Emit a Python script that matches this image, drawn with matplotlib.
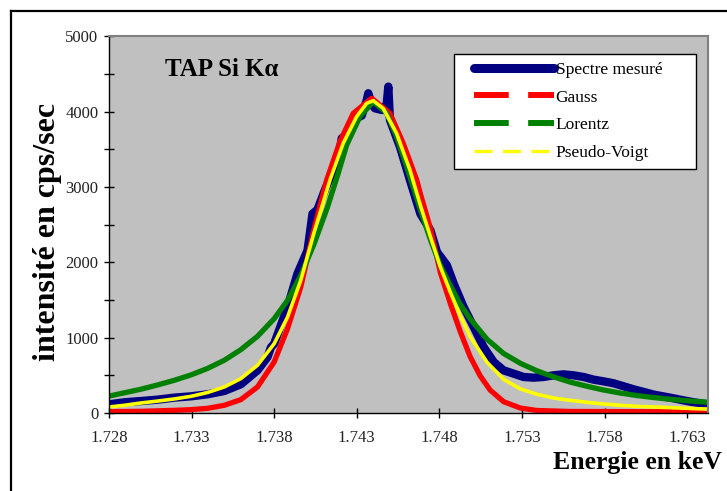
import matplotlib.pyplot as plt
from matplotlib.lines import Line2D
from matplotlib.legend_handler import HandlerLine2D

plt.rcParams['font.family'] = ['Liberation Serif', 'DejaVu Serif']
plt.rcParams['lines.scale_dashes'] = False

# energy (keV) / intensity (cps/sec)
e_mes = [1.72802, 1.72893, 1.72994, 1.73094, 1.73195, 1.73296, 1.73397, 1.73498,
         1.73598, 1.73699, 1.73760, 1.73780, 1.73800, 1.73881, 1.73941, 1.74002,
         1.74032, 1.74062, 1.74107, 1.74158, 1.74198, 1.74209, 1.74239, 1.74279,
         1.74330, 1.74360, 1.74370, 1.74390, 1.74410, 1.74451, 1.74481, 1.74491,
         1.74501, 1.74561, 1.74622, 1.74685, 1.74746, 1.74786, 1.74846, 1.74887,
         1.74947, 1.75008, 1.75068, 1.75129, 1.75189, 1.75250, 1.75310, 1.75371,
         1.75431, 1.75491, 1.75552, 1.75612, 1.75673, 1.75733, 1.75794, 1.75854,
         1.75915, 1.75975, 1.76036, 1.76096, 1.76157, 1.76217, 1.76278, 1.76338,
         1.76409]
i_mes = [115, 142, 159, 177, 204, 221, 248, 292,
         381, 566, 743, 870, 920, 1407, 1850, 2159,
         2646, 2700, 2961, 3227, 3500, 3648, 3700, 3891,
         3950, 4150, 4246, 4100, 4046, 4024, 4100, 4334,
         3891, 3537, 3094, 2646, 2425, 2137, 1960, 1717,
         1407, 1142, 876, 677, 566, 522, 478, 469,
         478, 500, 513, 500, 478, 443, 420, 395,
         355, 315, 280, 245, 220, 195, 168, 143,
         120]

e_gauss = [1.72802, 1.72994, 1.73195, 1.73296, 1.73397, 1.73498, 1.73598, 1.73699,
           1.73800, 1.73881, 1.73961, 1.74042, 1.74118, 1.74198, 1.74279, 1.74390,
           1.74501, 1.74581, 1.74663, 1.74685, 1.74746, 1.74806, 1.74867, 1.74927,
           1.74987, 1.75048, 1.75108, 1.75189, 1.75290, 1.75391, 1.75592, 1.76409]
i_gauss = [18, 22, 35, 44, 62, 102, 177, 345,
           677, 1120, 1673, 2450, 3094, 3604, 3980, 4180,
           3980, 3582, 3094, 2912, 2450, 1865, 1450, 1078,
           745, 490, 303, 150, 66, 33, 20, 15]

e_lor = [1.72802, 1.72893, 1.72994, 1.73094, 1.73195, 1.73296, 1.73397, 1.73498,
         1.73598, 1.73699, 1.73800, 1.73881, 1.73961, 1.74042, 1.74123, 1.74183,
         1.74239, 1.74319, 1.74400, 1.74481, 1.74541, 1.74602, 1.74685, 1.74746,
         1.74806, 1.74867, 1.74927, 1.74987, 1.75088, 1.75189, 1.75290, 1.75391,
         1.75491, 1.75592, 1.75693, 1.75794, 1.75895, 1.75995, 1.76096, 1.76197,
         1.76298, 1.76409]
i_lor = [225, 268, 316, 372, 434, 505, 592, 700,
         841, 1018, 1252, 1496, 1827, 2248, 2735, 3150,
         3559, 3935, 4134, 3980, 3670, 3271, 2700, 2300,
         1960, 1690, 1440, 1250, 980, 790, 660, 560,
         480, 410, 355, 305, 265, 232, 205, 182,
         163, 145]

e_pv = [1.72802, 1.72893, 1.72994, 1.73094, 1.73195, 1.73296, 1.73397, 1.73498,
        1.73598, 1.73699, 1.73800, 1.73881, 1.73961, 1.74042, 1.74138, 1.74218,
        1.74299, 1.74360, 1.74400, 1.74460, 1.74541, 1.74622, 1.74685, 1.74746,
        1.74806, 1.74867, 1.74927, 1.74987, 1.75088, 1.75189, 1.75290, 1.75391,
        1.75491, 1.75592, 1.75693, 1.75794, 1.75895, 1.75995, 1.76096, 1.76197,
        1.76298, 1.76409]
i_pv = [80, 102, 133, 158, 186, 221, 272, 345,
        456, 633, 920, 1274, 1761, 2400, 3094, 3582,
        3935, 4113, 4147, 4046, 3714, 3227, 2760, 2340,
        1940, 1600, 1290, 1010, 675, 447, 320, 248,
        199, 168, 142, 119, 102, 88, 80, 71,
        62, 53]

xticks = [1.728, 1.733, 1.738, 1.743, 1.748, 1.753, 1.758, 1.763]
xlabels = ['1.728', '1.733', '1.738', '1.743', '1.748', '1.753', '1.758', '1.763']
yticks = [0, 1000, 2000, 3000, 4000, 5000]
legends = ['Spectre mesuré', 'Gauss', 'Lorentz', 'Pseudo-Voigt']

fig = plt.figure(figsize=(7.27, 4.91), dpi=100)
ax = fig.add_axes([0.1499, 0.1589, 0.8239, 0.7668])
ax.set_facecolor('#c0c0c0')

ax.plot(e_mes, i_mes, color='#000080', lw=6, solid_joinstyle='round', solid_capstyle='round')
ax.plot(e_gauss, i_gauss, color='#ff0000', lw=3.8, solid_joinstyle='round')
ax.plot(e_lor, i_lor, color='#008000', lw=3.8, solid_joinstyle='round')
ax.plot(e_pv, i_pv, color='#ffff00', lw=2.6, solid_joinstyle='round')

ax.set_xlim(1.728, 1.76426)
ax.set_ylim(0, 5000)
ax.set_xticks(xticks)
ax.set_xticklabels(xlabels)
ax.set_yticks(yticks)
ax.set_yticks([500, 1500, 2500, 3500, 4500], minor=True)
ax.tick_params(axis='both', which='both', direction='inout', length=7, width=1,
               color='black', labelsize=12, labelcolor='#222222')
ax.tick_params(axis='x', pad=9)
ax.tick_params(axis='y', pad=4)

for s in ['left', 'bottom']:
    ax.spines[s].set_color('black')
    ax.spines[s].set_linewidth(1)
for s in ['top', 'right']:
    ax.spines[s].set_color('#808080')
    ax.spines[s].set_linewidth(1.5)

ax.text(0.0935, 0.911, 'TAP Si K\u03b1', transform=ax.transAxes, fontsize=18,
        fontweight='bold', va='center', ha='left')
fig.text(0.993, 0.059, 'Energie en keV', fontsize=18.5, fontweight='bold', ha='right', va='center')
fig.text(0.065, 0.527, 'intensité en cps/sec', fontsize=23, fontweight='bold',
         rotation=90, ha='center', va='center')

handles = [
    Line2D([], [], color='#000080', lw=6.5, solid_capstyle='round'),
    Line2D([], [], color='#ff0000', lw=4.3, dashes=(25, 14)),
    Line2D([], [], color='#008000', lw=4.3, dashes=(25, 14)),
    Line2D([], [], color='#ffff00', lw=2.4, dashes=(13, 7.5)),
]
leg = ax.legend(handles, legends, loc='upper left', bbox_to_anchor=(0.576, 0.653, 0.404, 0.3005),
                mode='expand', fontsize=12.5, handlelength=5.3, handletextpad=0.1,
                labelspacing=0.66, borderpad=0.45, borderaxespad=0, fancybox=False,
                framealpha=1, edgecolor='black', facecolor='white',
                handler_map={Line2D: HandlerLine2D(xpad=0.7)})
leg.get_frame().set_linewidth(1)

# outer frame of the original sheet
fig.add_artist(Line2D([0.0151, 0.0151], [0, 0.9776], color='black', lw=1.6, transform=fig.transFigure))
fig.add_artist(Line2D([0.0151, 1], [0.9776, 0.9776], color='black', lw=1.6, transform=fig.transFigure))

fig.savefig('out.png', dpi=100)
